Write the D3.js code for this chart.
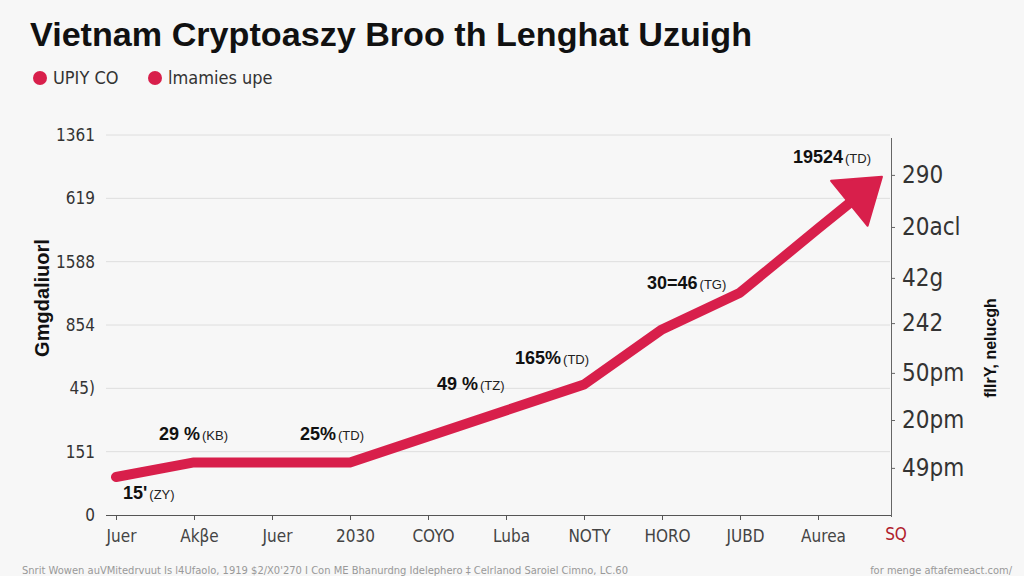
<!DOCTYPE html>
<html>
<head>
<meta charset="utf-8">
<script src="https://cdn.jsdelivr.net/npm/d3@7"></script>
<style>
  html, body { margin: 0; padding: 0; background: #f7f7f7; }
  svg { display: block; }
  .narrow { font-family: 'Liberation Sans Narrow', 'DejaVu Sans Condensed', 'Roboto', sans-serif; }
</style>
</head>
<body>
<svg id="chart" width="1024" height="576"></svg>
<script>
// ---- data ----
const titleText = "Vietnam Cryptoaszy Broo th Lenghat Uzuigh";
const legendLabels = ["UPIY CO", "lmamies upe"];
const categories = ["Juer", "Akβe", "Juer", "2030", "COYO", "Luba", "NOTY", "HORO", "JUBD", "Aurea", "SQ"];
const leftTickLabels = ["0", "151", "45)", "854", "1588", "619", "1361"];
const rightTickValues = [89.5, 75.8, 62.4, 50.5, 37.4, 25, 12.4];
const rightTickLabels = ["290", "20acl", "42g", "242", "50pm", "20pm", "49pm"];
// line series: x position in category index units, y in left-axis step units
const seriesX = [0, 1, 2, 3, 4, 5, 6, 7, 8, 9, 9.82];
const seriesY = [0.60, 0.83, 0.83, 0.83, 1.24, 1.65, 2.06, 2.93, 3.51, 4.52, 5.34];
// annotations: [index into series, bold part, small part]
const annoIdx = [0, 1, 3, 4, 6, 8, 10];
const annoMain = ["15'", "29 %", "25%", "49 %", "165%", "30=46", "19524"];
const annoSub = ["(ZY)", "(KB)", "(TD)", "(TZ)", "(TD)", "(TG)", "(TD)"];
const leftTitle = "Gmgdaliuorl";
const rightTitle = "flIrY, nelucgh";
const footLeft = "Snrit Wowen auVMitedrvuut Is l4Ufaolo, 1919 $2/X0'270 I Con ME Bhanurdng Idelephero ‡ Celrlanod Saroiel Cimno, LC.60";
const footRight = "for menge aftafemeact.com/";

const red = "#d81f4b";
const svg = d3.select("#chart");

// scales
const x = d3.scaleLinear().domain([0, 10]).range([116, 896]);
const y = d3.scaleLinear().domain([0, 6]).range([515, 135]);
const yR = d3.scaleLinear().domain([0, 100]).range([515, 135]);

// title
svg.append("text").attr("x", 30).attr("y", 46)
  .attr("font-family", "'Liberation Sans', Arial, sans-serif")
  .attr("font-weight", "bold").attr("font-size", 33).attr("fill", "#111")
  .attr("textLength", 722).attr("lengthAdjust", "spacingAndGlyphs")
  .text(titleText);

// legend
const legX = [40, 155];
legendLabels.forEach((t, i) => {
  svg.append("circle").attr("cx", legX[i]).attr("cy", 78).attr("r", 7).attr("fill", red);
  svg.append("text").attr("class", "narrow").attr("x", legX[i] + 13).attr("y", 84)
    .attr("font-size", 18).attr("fill", "#333").text(t);
});

// gridlines + left labels
const gy = svg.append("g");
d3.range(7).forEach(i => {
  if (i > 0) {
    gy.append("line").attr("x1", 106).attr("x2", 890).attr("y1", y(i)).attr("y2", y(i))
      .attr("stroke", "#dedede").attr("stroke-width", 1);
  }
  gy.append("text").attr("class", "narrow").attr("x", 95).attr("y", y(i) + 6)
    .attr("text-anchor", "end").attr("font-size", 17).attr("fill", "#333")
    .text(leftTickLabels[i]);
});

// x axis
const xAxis = d3.axisBottom(x)
  .tickValues(d3.range(10))
  .tickFormat(i => categories[i])
  .tickSize(5).tickSizeOuter(0);
const gx = svg.append("g").attr("transform", `translate(0,${y(0)})`).call(xAxis);
gx.select(".domain").attr("d", `M106,0.5H892`).attr("stroke", "#555");
gx.selectAll(".tick line").attr("stroke", "#555");
gx.selectAll(".tick text").attr("class", "narrow").attr("font-size", 17).attr("fill", "#444")
  .attr("dy", "1.1em").attr("dx", 5).attr("font-family", null);
svg.append("text").attr("class", "narrow").attr("x", x(10)).attr("y", 540)
  .attr("text-anchor", "middle").attr("font-size", 17).attr("fill", "#b0202c")
  .text(categories[10]);

// right axis
const rAxis = d3.axisRight(yR).tickValues(rightTickValues)
  .tickFormat((d, i) => rightTickLabels[i]).tickSize(4).tickSizeOuter(0);
const gr = svg.append("g").attr("transform", "translate(891,0)").call(rAxis);
gr.select(".domain").attr("d", "M0.5,138V517").attr("stroke", "#666");
gr.selectAll(".tick line").attr("stroke", "#666");
gr.selectAll(".tick text").attr("class", "narrow").attr("font-size", 24).attr("fill", "#333")
  .attr("x", 11).attr("font-family", null);

// axis titles
svg.append("text").attr("transform", `translate(49,298) rotate(-90)`)
  .attr("text-anchor", "middle").attr("font-family", "'Liberation Sans', Arial, sans-serif")
  .attr("font-weight", "bold").attr("font-size", 20).attr("fill", "#111").text(leftTitle);
svg.append("text").attr("transform", `translate(996,348) rotate(-90)`)
  .attr("text-anchor", "middle").attr("font-family", "'Liberation Sans', Arial, sans-serif")
  .attr("font-weight", "bold").attr("font-size", 16).attr("fill", "#111").text(rightTitle);

// line with arrow
const pts = seriesX.map((v, i) => [x(v), y(seriesY[i])]);
const tip = pts[pts.length - 1];
const prev = pts[pts.length - 2];
const dx = tip[0] - prev[0], dy = tip[1] - prev[1];
const len = Math.hypot(dx, dy);
const ux = dx / len, uy = dy / len;
const headLen = 42, headHalf = 29;
const base = [tip[0] - ux * headLen, tip[1] - uy * headLen];
const linePts = pts.slice(0, -1).concat([[base[0] + ux * 4, base[1] + uy * 4]]);
svg.append("path").attr("d", d3.line()(linePts))
  .attr("fill", "none").attr("stroke", red).attr("stroke-width", 10)
  .attr("stroke-linejoin", "round").attr("stroke-linecap", "round");
svg.append("path")
  .attr("d", d3.line()([
    tip,
    [base[0] - uy * headHalf, base[1] + ux * headHalf],
    [base[0] + uy * headHalf, base[1] - ux * headHalf]
  ]) + "Z")
  .attr("fill", red).attr("stroke", red).attr("stroke-width", 2).attr("stroke-linejoin", "round");

// annotations
const annoOff = [[7, 22], [-35, -22], [-50, -22], [9, -46], [-69, -21], [-93, -4], [-89, -14]];
annoIdx.forEach((k, i) => {
  const p = pts[k];
  const t = svg.append("text").attr("x", p[0] + annoOff[i][0]).attr("y", p[1] + annoOff[i][1])
    .attr("font-family", "'Liberation Sans', Arial, sans-serif").attr("fill", "#111");
  t.append("tspan").attr("font-weight", "bold").attr("font-size", 18).text(annoMain[i]);
  t.append("tspan").attr("font-size", 13).attr("dx", 2).attr("fill", "#222").text(annoSub[i]);
});

// footer
svg.append("text").attr("class", "narrow").attr("x", 22).attr("y", 574)
  .attr("font-size", 11).attr("fill", "#999")
  .attr("textLength", 606).attr("lengthAdjust", "spacingAndGlyphs").text(footLeft);
svg.append("text").attr("class", "narrow").attr("x", 1012).attr("y", 574)
  .attr("text-anchor", "end").attr("font-size", 11).attr("fill", "#999").text(footRight);
</script>
</body>
</html>
